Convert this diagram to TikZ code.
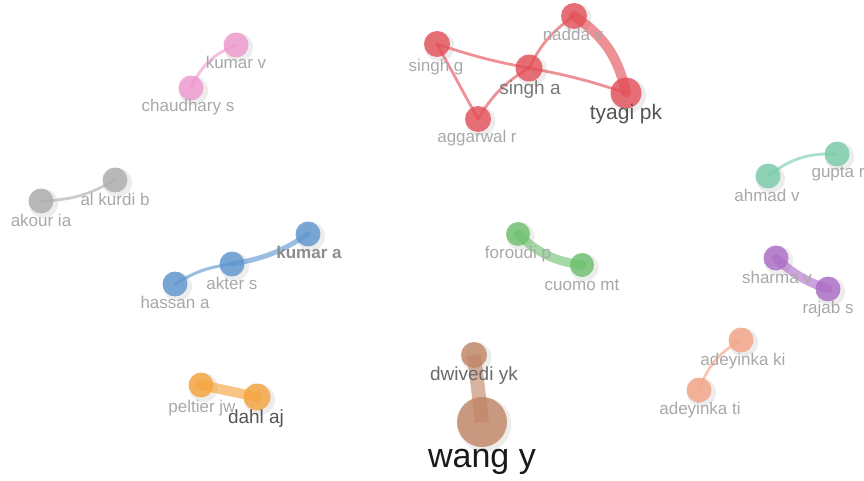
\documentclass[tikz,border=0pt]{standalone}
\usepackage{fontspec}
\setmainfont{Liberation Sans}
\usetikzlibrary{calc}
\pgfdeclarelayer{bg}
\pgfdeclarelayer{shadow}
\pgfsetlayers{shadow,bg,main}
\definecolor{cred}{RGB}{228,78,86}
\definecolor{cpink}{RGB}{240,150,205}
\definecolor{cgray}{RGB}{172,172,172}
\definecolor{cblue}{RGB}{92,148,205}
\definecolor{cgreen}{RGB}{108,192,108}
\definecolor{cteal}{RGB}{118,204,168}
\definecolor{cpurp}{RGB}{172,106,198}
\definecolor{csalm}{RGB}{245,162,132}
\definecolor{corng}{RGB}{245,162,58}
\definecolor{cbrown}{RGB}{192,132,100}
\definecolor{lblgray}{RGB}{168,168,168}
\definecolor{lblmid}{RGB}{120,120,120}
\definecolor{lbldark}{RGB}{85,85,85}
\tikzset{
  vn/.style={circle,inner sep=0pt,draw=none,fill=#1,fill opacity=0.8},
  edge/.style={draw=#1,draw opacity=0.62,line width=2.8pt,line cap=round},
  lbl/.style={anchor=base,inner sep=0pt,text=lblgray,font=\fontsize{17}{20}\selectfont},
  lblm/.style={anchor=base,inner sep=0pt,text=lblmid,font=\fontsize{19}{22}\selectfont},
  lbld/.style={anchor=base,inner sep=0pt,text=lbldark,font=\fontsize{21}{24}\selectfont},
}
\newcommand{\shd}[2]{\begin{pgfonlayer}{shadow}\fill[black,opacity=0.07] ($(#1)+(2.5,2.5)$) circle (#2+2);\end{pgfonlayer}}
\begin{document}
\begin{tikzpicture}[x=1pt,y=-1pt]
\useasboundingbox (0,0) rectangle (864,481);
% red cluster
\node[vn=cred,minimum size=26pt] (sg) at (437,44) {};
\node[vn=cred,minimum size=26pt] (nv) at (574,16) {};
\node[vn=cred,minimum size=27pt] (sa) at (529,68) {};
\node[vn=cred,minimum size=31pt] (tp) at (626,93) {};
\node[vn=cred,minimum size=26pt] (ar) at (478,119) {};
% pink
\node[vn=cpink,minimum size=25pt] (kv) at (236,45) {};
\node[vn=cpink,minimum size=25pt] (cs) at (191,88) {};
% gray
\node[vn=cgray,minimum size=25pt] (kb) at (115,180) {};
\node[vn=cgray,minimum size=25pt] (ai) at (41,201) {};
% blue
\node[vn=cblue,minimum size=25pt] (ka) at (308,234) {};
\node[vn=cblue,minimum size=25pt] (as) at (232,264) {};
\node[vn=cblue,minimum size=25pt] (ha) at (175,284) {};
% green
\node[vn=cgreen,minimum size=24pt] (fp) at (518,234) {};
\node[vn=cgreen,minimum size=24pt] (cm) at (582,265) {};
% teal
\node[vn=cteal,minimum size=25pt] (gr) at (837,154) {};
\node[vn=cteal,minimum size=25pt] (av) at (768,176) {};
% purple
\node[vn=cpurp,minimum size=25pt] (sv) at (776,258) {};
\node[vn=cpurp,minimum size=25pt] (rs) at (828,289) {};
% salmon
\node[vn=csalm,minimum size=25pt] (ak) at (741,340) {};
\node[vn=csalm,minimum size=25pt] (at) at (699,390) {};
% orange
\node[vn=corng,minimum size=25pt] (pj) at (201,385) {};
\node[vn=corng,minimum size=27pt] (da) at (257,397) {};
% brown
\node[vn=cbrown,minimum size=26pt] (dy) at (474,355) {};
\node[vn=cbrown,minimum size=50pt] (wy) at (482,422) {};

% shadows
\foreach \n/\r in {sg/13,nv/13,sa/13.5,tp/15.5,ar/13,kv/12.5,cs/12.5,kb/12.5,ai/12.5,ka/12.5,as/12.5,ha/12.5,fp/12,cm/12,gr/12.5,av/12.5,sv/12.5,rs/12.5,ak/12.5,at/12.5,pj/12.5,da/13.5,dy/13,wy/25}{
  \shd{\n.center}{\r}
}

% edges
\begin{pgfonlayer}{bg}
\draw[edge=cred] (sg.center) to[bend right=4] (sa.center);
\draw[edge=cred] (sa.center) to[bend left=4] (tp.center);
\draw[edge=cred] (sg.center) to (ar.center);
\draw[edge=cred] (ar.center) to[bend left=14] (sa.center);
\draw[edge=cred] (sa.center) to[bend left=14] (nv.center);
\draw[edge=cred,line width=10pt] (nv.center) to[bend left=22] (tp.center);
\draw[edge=cpink] (cs.center) to[bend left=22] (kv.center);
\draw[edge=cgray] (ai.center) to[bend right=14] (kb.center);
\draw[edge=cblue,line width=3pt] (ha.center) to[bend left=12] (as.center);
\draw[edge=cblue,line width=5pt] (as.center) to[bend right=12] (ka.center);
\draw[edge=cgreen,line width=9pt] (fp.center) to[bend right=18] (cm.center);
\draw[edge=cteal] (av.center) to[bend left=20] (gr.center);
\draw[edge=cpurp,line width=9pt] (sv.center) to[bend right=12] (rs.center);
\draw[edge=csalm] (at.center) to[bend left=20] (ak.center);
\draw[edge=corng,line width=10pt] (pj.center) to (da.center);
\draw[edge=cbrown,line width=14pt,line cap=butt] (dy.center) to (wy.center);
\end{pgfonlayer}

% labels
\node[lbl] (lsg) at (436,72) {singh g};
\node[lbl] (lnv) at (573,41) {nadda v};
\node[lblm] (lsa) at (530,95) {singh a};
\node[lbld] (ltp) at (626,120) {tyagi pk};
\node[lbl] (lar) at (477,143) {aggarwal r};
\node[lbl] (lkv) at (236,69) {kumar v};
\node[lbl] (lcs) at (188,112) {chaudhary s};
\node[lbl] (lkb) at (115,205) {al kurdi b};
\node[lbl] (lai) at (41,226) {akour ia};
\node[lbl,text={rgb,255:red,140;green,140;blue,140},font=\fontsize{17}{20}\selectfont\bfseries] (lka) at (309,258) {kumar a};
\node[lbl] (las) at (232,289) {akter s};
\node[lbl] (lha) at (175,308) {hassan a};
\node[lbl] (lfp) at (518,258) {foroudi p};
\node[lbl] (lcm) at (582,290) {cuomo mt};
\node[lbl] (lgr) at (838,178) {gupta r};
\node[lbl] (lav) at (767,201) {ahmad v};
\node[lbl] (lsv) at (777,283) {sharma v};
\node[lbl] (lrs) at (828,313) {rajab s};
\node[lbl] (lak) at (743,365) {adeyinka ki};
\node[lbl] (lat) at (700,414) {adeyinka ti};
\node[lbl] (lpj) at (202,412) {peltier jw};
\node[lblm,text=lbldark] (lda) at (256,423) {dahl aj};
\node[lblm,text={rgb,255:red,105;green,105;blue,105}] (ldy) at (474,380) {dwivedi yk};
\node[anchor=base,inner sep=0pt,text={rgb,255:red,25;green,25;blue,25},font=\fontsize{34}{38}\selectfont] (lwy) at (482,467) {wang y};
\end{tikzpicture}
\end{document}
